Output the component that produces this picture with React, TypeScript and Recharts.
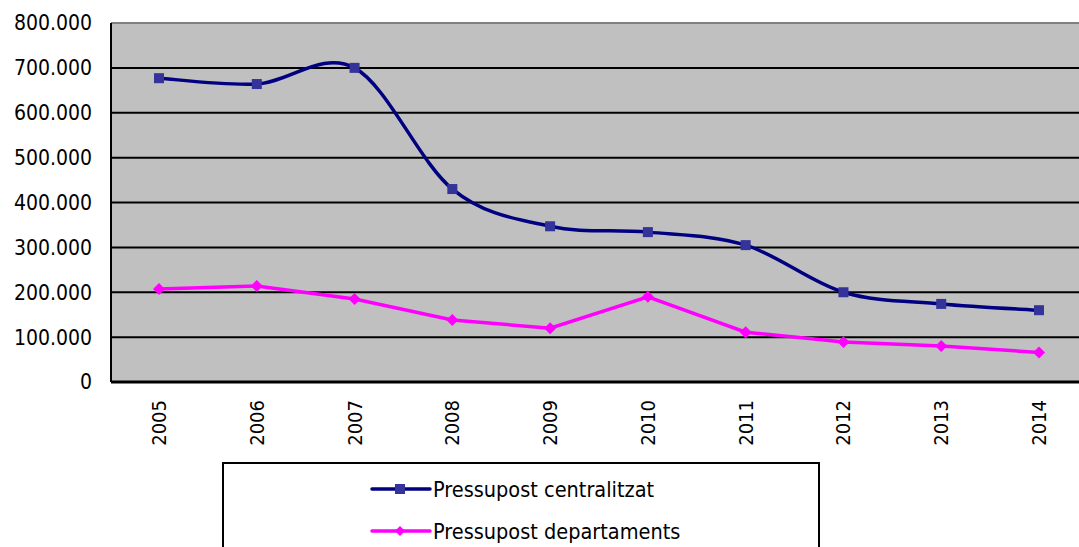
import React from "react";
import {
  LineChart,
  Line,
  XAxis,
  YAxis,
  CartesianGrid,
  ReferenceLine,
} from "recharts";

const years = ["2005", "2006", "2007", "2008", "2009", "2010", "2011", "2012", "2013", "2014"];
const centralitzat = [677000, 664000, 700000, 430000, 347000, 334000, 305000, 200000, 174000, 160000];
const departaments = [207000, 214000, 185000, 138000, 120000, 190000, 111000, 89000, 80000, 66000];
const yTicks = [0, 100000, 200000, 300000, 400000, 500000, 600000, 700000, 800000];

const seriesNames = ["Pressupost centralitzat", "Pressupost departaments"];

const data = years.map((year, i) => ({
  year,
  centralitzat: centralitzat[i],
  departaments: departaments[i],
}));

const FONT = "'DejaVu Sans Condensed', 'DejaVu Sans', sans-serif";

// spreadsheet-style smoothing (uniform Catmull-Rom through every point)
const smoothCurve = (context: any) => {
  let pts: number[][] = [];
  return {
    areaStart() {},
    areaEnd() {},
    lineStart() {
      pts = [];
    },
    point(x: number, y: number) {
      pts.push([+x, +y]);
    },
    lineEnd() {
      if (!pts.length) return;
      context.moveTo(pts[0][0], pts[0][1]);
      for (let i = 0; i < pts.length - 1; i++) {
        const p0 = pts[Math.max(i - 1, 0)];
        const p1 = pts[i];
        const p2 = pts[i + 1];
        const p3 = pts[Math.min(i + 2, pts.length - 1)];
        context.bezierCurveTo(
          p1[0] + (p2[0] - p0[0]) / 6,
          p1[1] + (p2[1] - p0[1]) / 6,
          p2[0] - (p3[0] - p1[0]) / 6,
          p2[1] - (p3[1] - p1[1]) / 6,
          p2[0],
          p2[1]
        );
      }
    },
  };
};

const SquareDot = (props: any) => {
  const { cx, cy, index } = props;
  return <rect key={`sq-${index}`} x={cx - 5} y={cy - 5} width={10} height={10} fill="#333399" />;
};

const DiamondDot = (props: any) => {
  const { cx, cy, index } = props;
  return (
    <path
      key={`dm-${index}`}
      d={`M${cx},${cy - 6} L${cx + 6},${cy} L${cx},${cy + 6} L${cx - 6},${cy} Z`}
      fill="#FF00FF"
    />
  );
};

const YearTick = (props: any) => {
  const { x, payload } = props;
  return (
    <g transform={`translate(${x},400)`}>
      <text
        x={0}
        y={0}
        dy={7}
        textAnchor="end"
        transform="rotate(-90)"
        fontSize={20}
        fontFamily={FONT}
        fill="#000"
      >
        {payload.value}
      </text>
    </g>
  );
};

const fmt = (v: number) => String(v).replace(/\B(?=(\d{3})+(?!\d))/g, ".");

const App: React.FC = () => {
  return (
    <div
      style={{
        position: "absolute",
        left: 0,
        top: 0,
        width: 1079,
        height: 547,
        overflow: "hidden",
        background: "#fff",
      }}
    >
      <LineChart
        width={1088}
        height={547}
        data={data}
        margin={{ top: 23, right: 0, bottom: 0, left: 0 }}
      >
        <CartesianGrid vertical={false} fill="#C0C0C0" stroke="#000" strokeWidth={2} />
        <ReferenceLine y={800000} stroke="#808080" strokeWidth={2} />
        <XAxis
          dataKey="year"
          height={165}
          padding={{ left: 48, right: 49 }}
          tickLine={false}
          tickSize={0}
          axisLine={{ stroke: "#000", strokeWidth: 3 }}
          tick={<YearTick />}
          interval={0}
        />
        <YAxis
          width={111}
          domain={[0, 800000]}
          ticks={yTicks}
          tickFormatter={fmt}
          tickLine={false}
          tickSize={0}
          tickMargin={19}
          axisLine={{ stroke: "#000", strokeWidth: 2 }}
          tick={{ fontSize: 21, fontFamily: FONT, fill: "#000" }}
        />
        <Line
          dataKey="centralitzat"
          name={seriesNames[0]}
          type={smoothCurve as any}
          stroke="#000080"
          strokeWidth={3.5}
          dot={<SquareDot />}
          isAnimationActive={false}
        />
        <Line
          dataKey="departaments"
          name={seriesNames[1]}
          type="linear"
          stroke="#FF00FF"
          strokeWidth={3.5}
          dot={<DiamondDot />}
          isAnimationActive={false}
        />
      </LineChart>
      <div
        style={{
          position: "absolute",
          left: 222,
          top: 462,
          width: 594,
          height: 120,
          border: "2px solid #000",
          background: "#fff",
          fontFamily: FONT,
          fontSize: 21.5,
          color: "#000",
        }}
      >
        {seriesNames.map((name, i) => (
          <div
            key={name}
            style={{
              position: "absolute",
              left: 146,
              top: 12 + i * 42,
              height: 26,
              display: "flex",
              alignItems: "center",
              whiteSpace: "nowrap",
            }}
          >
            <svg width={62} height={26}>
              <line
                x1={2}
                y1={13}
                x2={60}
                y2={13}
                stroke={i === 0 ? "#000080" : "#FF00FF"}
                strokeWidth={3.5}
                strokeLinecap="round"
              />
              {i === 0 ? (
                <rect x={25} y={8} width={10} height={10} fill="#333399" />
              ) : (
                <path d="M30,8 L35,13 L30,18 L25,13 Z" fill="#FF00FF" />
              )}
            </svg>
            <span style={{ marginLeft: 1 }}>{name}</span>
          </div>
        ))}
      </div>
    </div>
  );
};

export default App;
